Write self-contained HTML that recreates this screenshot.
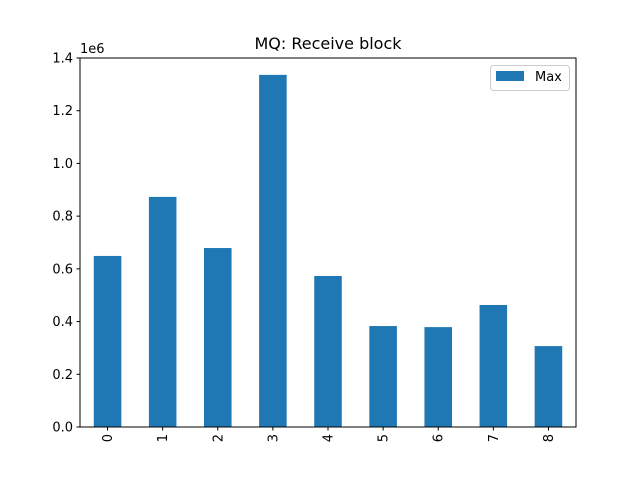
<!DOCTYPE html>
<html><head><meta charset="utf-8"><style>
body{margin:0;background:#fff;}
svg text{font-family:"DejaVu Sans","Liberation Sans",sans-serif;fill:#000;}
</style></head><body>
<svg id="chart" width="640" height="480" xmlns="http://www.w3.org/2000/svg">
<rect width="640" height="480" fill="#fff"/>
<text x="328" y="49" font-size="16" text-anchor="middle">MQ: Receive block</text>
<text x="80" y="53" font-size="13">1e6</text>
<g id="bars"></g>
<g id="axes"></g>
<rect x="80" y="58" width="496" height="369" fill="none" stroke="#000" stroke-width="1"/>
<g>
<rect x="490.5" y="65.5" width="79" height="25" rx="3" fill="#fff" stroke="#ccc"/>
<rect x="496" y="71" width="28" height="10" fill="#1f77b4"/>
<text x="535" y="81" font-size="13">Max</text>
</g>
</svg>
<script>
const categories = ["0","1","2","3","4","5","6","7","8"];
const maxValues = [649000, 873000, 679000, 1336000, 573000, 383000, 379000, 463000, 307000];
const yTicks = [0, 200000, 400000, 600000, 800000, 1000000, 1200000, 1400000];
const yTickLabels = ["0.0","0.2","0.4","0.6","0.8","1.0","1.2","1.4"];
const L=80,R=576,T=58,B=427,yMax=1400000;
const xs=i=>L+(i+0.5)*(R-L)/categories.length;
const ys=v=>B-v/yMax*(B-T);
const NS="http://www.w3.org/2000/svg";
const bars=document.getElementById('bars'),axes=document.getElementById('axes');
const bw=0.5*(R-L)/categories.length;
maxValues.forEach((v,i)=>{
  const r=document.createElementNS(NS,'rect');
  r.setAttribute('x',xs(i)-bw/2);r.setAttribute('y',ys(v));
  r.setAttribute('width',bw);r.setAttribute('height',B-ys(v));
  r.setAttribute('fill','#1f77b4');
  
  
  bars.appendChild(r);
});
categories.forEach((c,i)=>{
  const l=document.createElementNS(NS,'line');
  l.setAttribute('x1',xs(i));l.setAttribute('x2',xs(i));l.setAttribute('y1',B);l.setAttribute('y2',B+3.5);l.setAttribute('stroke','#000');
  
  
  axes.appendChild(l);
  const t=document.createElementNS(NS,'text');
  t.setAttribute('font-size','13');t.setAttribute('text-anchor','end');
  t.setAttribute('transform',`translate(${xs(i)+4.5},${B+7}) rotate(-90)`);
  t.textContent=c;
  
  
  axes.appendChild(t);
});
yTicks.forEach((v,i)=>{
  const l=document.createElementNS(NS,'line');
  l.setAttribute('x1',L-3.5);l.setAttribute('x2',L);l.setAttribute('y1',ys(v));l.setAttribute('y2',ys(v));l.setAttribute('stroke','#000');
  
  
  axes.appendChild(l);
  const t=document.createElementNS(NS,'text');
  t.setAttribute('font-size','13');t.setAttribute('text-anchor','end');
  t.setAttribute('x',L-7);t.setAttribute('y',ys(v)+4.5);
  t.textContent=yTickLabels[i];
  
  
  axes.appendChild(t);
});
</script>
</body></html>
